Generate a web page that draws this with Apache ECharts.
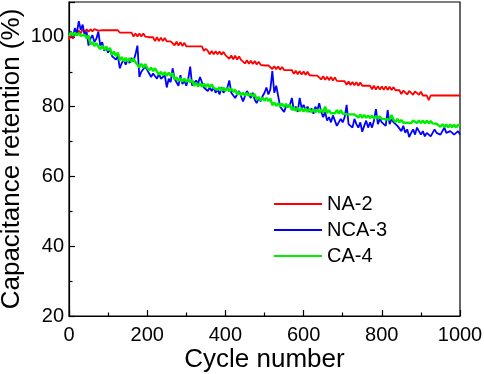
<!DOCTYPE html>
<html>
<head>
<meta charset="utf-8">
<script src="https://cdn.jsdelivr.net/npm/echarts@6/dist/echarts.min.js"></script>
<style>html,body{margin:0;padding:0;background:#fff;}#c{width:484px;height:374px;}</style>
</head>
<body>
<div id="c"></div>
<script>
const cycles = [
0,5,10,15,20,25,30,35,40,45,
50,55,60,65,70,75,80,85,90,95,
100,105,110,115,120,125,130,135,140,145,
150,155,160,165,170,175,180,185,190,195,
200,205,210,215,220,225,230,235,240,245,
250,255,260,265,270,275,280,285,290,295,
300,305,310,315,320,325,330,335,340,345,
350,355,360,365,370,375,380,385,390,395,
400,405,410,415,420,425,430,435,440,445,
450,455,460,465,470,475,480,485,490,495,
500,505,510,515,520,525,530,535,540,545,
550,555,560,565,570,575,580,585,590,595,
600,605,610,615,620,625,630,635,640,645,
650,655,660,665,670,675,680,685,690,695,
700,705,710,715,720,725,730,735,740,745,
750,755,760,765,770,775,780,785,790,795,
800,805,810,815,820,825,830,835,840,845,
850,855,860,865,870,875,880,885,890,895,
900,905,910,915,920,925,930,935,940,945,
950,955,960,965,970,975,980,985,990,995,
1000];
const na2 = [
99.2,100.8,99.5,101.0,100.4,101.8,101.0,102.2,101.3,102.2,
101.5,102.2,101.6,102.2,102.2,101.8,102.2,101.9,102.2,101.9,
102.2,101.9,102.2,101.9,102.2,101.9,101.2,101.2,101.2,101.2,
101.2,101.2,101.2,100.1,101.0,100.1,101.0,100.1,101.0,100.1,
99.9,99.9,99.9,99.9,98.8,99.9,98.8,99.8,98.8,99.7,
98.7,98.7,98.7,98.7,97.6,98.6,97.5,98.5,97.4,98.3,
97.3,97.3,97.3,97.3,97.3,97.3,97.3,97.3,97.3,96.0,
96.6,96.0,95.0,96.0,95.0,95.9,95.0,95.8,94.9,95.7,
94.8,94.8,93.7,94.7,93.6,94.6,93.5,94.4,93.4,93.4,
92.4,93.3,92.3,93.2,92.2,93.1,92.1,92.9,92.0,91.8,
91.8,91.8,91.8,91.8,90.8,91.6,90.7,91.5,90.6,91.4,
90.5,90.5,90.5,90.5,90.5,89.4,90.3,89.3,90.2,89.2,
90.1,89.1,90.0,89.0,88.9,88.9,88.9,88.9,88.9,87.8,
88.7,87.7,88.6,87.6,88.5,87.5,88.4,87.4,87.3,87.3,
87.3,87.3,86.3,87.2,86.2,87.1,86.1,87.0,86.0,86.9,
86.0,86.0,86.0,86.0,86.0,85.0,86.0,84.9,85.9,84.9,
85.8,84.8,85.8,84.8,85.7,84.8,85.6,84.7,84.7,84.7,
83.6,84.6,84.6,83.5,84.5,84.5,83.4,84.4,84.4,83.4,
84.3,83.2,83.2,83.2,81.9,83.2,83.2,83.2,83.2,83.2,
83.2,83.2,83.2,83.2,83.2,83.2,83.2,83.2,83.2,83.2,
83.2];
const nca3 = [
100.5,101.5,100,102.5,101,104.5,102,103.5,100.5,101.5,
97.5,99.5,100.5,98.5,99.5,101.5,97.5,98.5,96,97,
95.5,96.5,94.5,95,93.5,94.5,91,92.5,93.5,92,
93.5,92.5,94,93,95,97.5,88.5,90,89.5,91.5,
90.5,91,88.5,89.5,90,88,89.5,88,87.5,89,
85.5,88,87,91,88,87.5,86,89,86.5,87.5,
86,88,91.5,86,86.5,87.5,86.5,88.5,87,85.5,
86,84.5,85.5,84.5,85.5,84,85,83.5,85.5,84,
84.5,85.5,87.5,84,84.5,82.5,83,84.5,83,81.5,
82,84.5,83.5,82.5,84,82,81,82.5,81.5,83,
84,85.5,83.5,85,90.2,84,86,83,80,79.5,
78.5,80,79.5,80.5,82.5,79,80,78.5,82.5,79.5,
80.5,79,80,78.5,79.5,78,80,79,81,78.5,
77,78.5,76,77,75.5,77.5,76,74.5,74,76.5,
75.5,77,80.5,75,75.5,74,76.5,75,74,75.5,
72.8,74.5,76,74,75.5,74,76,79.3,75,76.5,
75.5,76,74.5,79,75,76.5,75.5,76,74.5,75,
73,74.5,72.5,73.5,71.3,72.5,73.5,72,74,73,
72,73,71.5,72.5,73,71.5,72,73.5,72.5,73,
72,71.5,74,72.5,72,73,73.5,72,71.5,73,
72];
const ca4 = [
100.3,101.2,100.4,101.2,100.4,101.1,100.3,99.8,100.6,99.6,
100.4,97.8,98.5,97.4,98.2,97.2,96.5,97.5,96.3,97.2,
96.2,96.8,94.8,95.8,94.5,95.5,93.3,94.2,93.0,94.0,
92.9,93.9,92.8,93.8,92.7,92.4,91.3,92.3,91.2,92.2,
91.1,90.4,91.2,90.2,91.0,90.0,89.2,90.0,89.0,89.9,
88.8,89.8,88.8,89.6,87.8,88.4,87.4,88.2,87.2,88.0,
87.1,87.9,87.0,87.6,86.0,86.8,85.8,86.7,85.7,86.6,
85.6,86.5,85.5,86.4,85.4,85.8,84.8,85.6,84.6,85.5,
84.5,85.4,84.4,85.2,84.2,84.9,83.5,84.2,83.3,84.0,
83.2,83.9,83.1,83.8,83.0,83.6,82.0,82.8,81.8,82.6,
81.7,82.5,81.6,82.3,80.4,81.2,80.2,81.0,80.0,80.9,
79.9,80.8,79.8,80.6,79.0,79.8,78.8,79.7,78.7,79.6,
78.6,79.5,78.5,79.4,78.4,79.3,78.4,79.2,78.3,79.2,
78.2,80.0,78.2,79.0,78.1,78.2,78.1,79.0,78.0,79.0,
78.0,78.0,77.8,77.9,77.8,77.8,77.8,77.7,76.9,77.7,
76.8,77.6,76.8,77.5,76.7,77.4,76.6,77.3,76.6,77.2,
76.5,76.5,76.4,76.4,76.3,77.6,76.2,75.6,76.5,75.5,
76.2,75.4,75.4,75.4,75.3,75.3,76.0,76.2,75.3,76.0,
75.3,76.0,75.2,76.0,75.2,75.9,75.2,75.1,75.1,75.0,
74.2,75.0,74.2,74.9,74.1,74.9,74.1,74.8,74.0,74.8,
74.5];
const seriesNames = ['NA-2', 'NCA-3', 'CA-4'];
const seriesColors = ['#ff0000', '#0000ff', '#00ee00'];
const xTitle = 'Cycle number';
const yTitle = 'Capacitance retention (%)';

const FONT = 'Arial, "Liberation Sans", sans-serif';
function pairs(ys){ return cycles.map((c,i)=>[c, ys[i]]); }
const allData = [na2, nca3, ca4];
const widths = [1.8, 1.8, 2.4];

const chart = echarts.init(document.getElementById('c'), null, {renderer:'canvas'});
chart.setOption({
  animation: false,
  backgroundColor: '#fff',
  grid: {left: 69, right: 24, top: 2, bottom: 58, containLabel: false, outerBoundsMode: 'none',
    show: true, borderColor: '#000', borderWidth: 1.2, backgroundColor: 'transparent'},
  legend: {
    orient: 'vertical', left: 269, top: 189, itemWidth: 48, itemHeight: 2, itemGap: 6, icon: 'rect',
    textStyle: {fontFamily: FONT, fontSize: 20, color: '#000', padding: [0,0,0,0]},
    data: seriesNames
  },
  xAxis: {
    type: 'value', min: 0, max: 1000, interval: 200,
    name: xTitle, nameLocation: 'middle', nameGap: 31, nameMoveOverlap: false,
    nameTextStyle: {fontFamily: FONT, fontSize: 26, color: '#000'},
    axisLine: {show: true, lineStyle: {color: '#000', width: 1.2}},
    axisTick: {show: true, inside: true, length: 6, lineStyle: {color: '#000', width: 1.2}},
    minorTick: {show: true, splitNumber: 2, length: 3.5, lineStyle: {color: '#000', width: 1.2}},
    axisLabel: {fontFamily: FONT, fontSize: 20, color: '#000', margin: 9, formatter: v => String(v)},
    splitLine: {show: false}
  },
  yAxis: {
    type: 'value', min: 20, max: 110, interval: 20,
    name: yTitle, nameLocation: 'middle', nameGap: 44, nameMoveOverlap: false,
    nameTextStyle: {fontFamily: FONT, fontSize: 26, color: '#000'},
    axisLine: {show: true, lineStyle: {color: '#000', width: 1.2}},
    axisTick: {show: true, inside: true, length: 6, lineStyle: {color: '#000', width: 1.2}},
    minorTick: {show: true, splitNumber: 2, length: 3.5, lineStyle: {color: '#000', width: 1.2}},
    axisLabel: {fontFamily: FONT, fontSize: 20, color: '#000', margin: 5,
      formatter: v => (v === 110 ? '' : String(v))},
    splitLine: {show: false}
  },
  series: seriesNames.map((n, i) => ({
    name: n, type: 'line', data: pairs(allData[i]),
    symbol: 'none', showSymbol: false,
    lineStyle: {color: seriesColors[i], width: widths[i]},
    itemStyle: {color: seriesColors[i]}
  }))
});
</script>
</body>
</html>
